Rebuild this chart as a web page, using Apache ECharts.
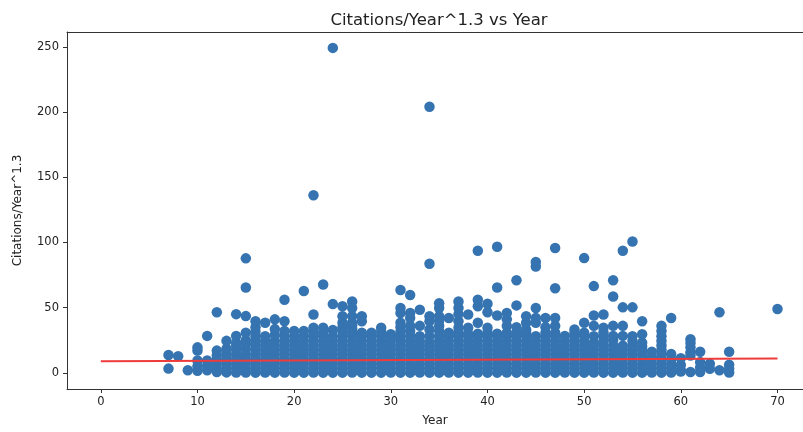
<!DOCTYPE html>
<html>
<head>
<meta charset="utf-8">
<script src="https://cdn.jsdelivr.net/npm/echarts@6/dist/echarts.min.js"></script>
<style>
html,body{margin:0;padding:0;background:#fff;}
#chart{width:803px;height:432px;}
</style>
</head>
<body>
<div id="chart"></div>
<script>
// ---- data ----
const titleText = "Citations/Year^1.3 vs Year";
const xName = "Year";
const yName = "Citations/Year^1.3";
const xTicks = [0, 10, 20, 30, 40, 50, 60, 70];
const yTicks = [0, 50, 100, 150, 200, 250];

const years = [7,8,9,10,11,12,13,14,15,16,17,18,19,20,21,22,23,24,25,26,27,28,29,30,31,32,33,34,35,36,37,38,39,40,41,42,43,44,45,46,47,48,49,50,51,52,53,54,55,56,57,58,59,60,61,62,63,64,65,70];

const valuesByYear = [
  [3.2, 13.7],
  [12.7],
  [1.9],
  [1.5, 5.0, 9.4, 17.0, 19.5],
  [2.0, 5.5, 9.4, 28.3],
  [0.5, 3, 6.5, 10, 13.5, 17, 46.4],
  [0.3, 3.5, 7, 10.5, 14, 18.5, 24.5],
  [0.2, 3.5, 7, 10.5, 14, 17.5, 20.5, 23, 28.3, 45],
  [0.2, 3.5, 7, 10.5, 14, 18, 22, 25, 30.8, 43.5, 65.5, 87.8],
  [0.1, 3.5, 7, 10.5, 14, 17.5, 21, 24.5, 28, 31.5, 35, 39.6],
  [0.2, 3.5, 7, 10.5, 14, 17.5, 21, 24.5, 28, 38.4],
  [0.1, 3.5, 7, 10.5, 14, 17.5, 21, 24.5, 29, 33.5, 41],
  [0.2, 3.5, 7, 10.5, 14, 17.5, 21, 24.5, 28, 32, 39.6, 56],
  [0.1, 3.5, 7, 10.5, 14, 17.5, 21, 24.5, 28, 32],
  [0.1, 3.5, 7, 10.5, 14, 17.5, 21, 24.5, 28, 32, 62.8],
  [0.2, 3.5, 7, 10.5, 14, 17.5, 21, 24.5, 28, 31, 34.6, 44.7, 136.2],
  [0.1, 3.5, 7, 10.5, 14, 17.5, 21, 24.5, 28, 31, 34.6, 67.8],
  [0.1, 3.5, 7, 10.5, 14, 17.5, 21, 24.5, 28, 32.8, 52.7, 249.3],
  [0.1, 3.5, 7, 10.5, 14, 17.5, 21, 24.5, 28, 31.5, 35, 38.4, 43.4, 51],
  [0.2, 3.5, 7, 10.5, 14, 17.5, 21, 24.5, 28, 31, 34, 36.5, 38.4, 43.4, 49.7, 54.7],
  [0.1, 3.5, 7, 10.5, 14, 17.5, 21, 24.5, 28, 30.8, 39.6, 43.4],
  [0.1, 3.5, 7, 10.5, 14, 17.5, 21, 24.5, 28, 30.8],
  [0.1, 3.5, 7, 10.5, 14, 17.5, 21, 24.5, 28, 31.5, 34.6],
  [0.2, 3.5, 7, 10.5, 14, 17.5, 21, 24.5, 27, 29.6],
  [0.1, 3.5, 7, 10.5, 14, 17.5, 21, 24.5, 28, 31.5, 35, 38.4, 45.9, 49.7, 63.5],
  [0.1, 3.5, 7, 10.5, 14, 17.5, 21, 24.5, 28, 32, 36, 42, 45.9, 59.7],
  [0.2, 3.5, 7, 10.5, 14, 17.5, 21, 24.5, 28, 36, 48.4],
  [0.1, 3.5, 7, 10.5, 14, 17.5, 20, 23, 28, 33.3, 39.6, 43.4, 83.6, 204.2],
  [0.1, 3.5, 7, 10.5, 14, 17.5, 21, 24.5, 28, 32, 36, 40, 43.4, 49.7, 53.4],
  [0.2, 3.5, 7, 10.5, 14, 17.5, 21, 24.5, 28, 30.8, 42],
  [0.1, 3.5, 7, 10.5, 14, 17.5, 21, 24.5, 28, 31, 34.6, 39.6, 45, 49.7, 54.7],
  [0.1, 3.5, 7, 10.5, 14, 17.5, 21, 24.5, 28, 30, 34.6, 44.7],
  [0.2, 3.5, 7, 10.5, 14, 17.5, 21, 24.5, 28, 30, 38.4, 51, 56, 93.7],
  [0.1, 3.5, 7, 10.5, 14, 17.5, 21, 24.5, 28, 30.8, 34.6, 46.5, 53],
  [0.1, 3.5, 7, 10.5, 14, 17.5, 21, 24.5, 28, 30, 44, 65.5, 96.7],
  [0.2, 3.5, 7, 10.5, 14, 17.5, 21, 24.5, 28, 30.8, 36, 41, 45.9],
  [0.1, 3.5, 7, 10.5, 14, 17.5, 21, 24.5, 28, 30.8, 35, 51.7, 71],
  [0.1, 3.5, 7, 10.5, 14, 17.5, 21, 24.5, 28, 30.8, 33, 38.4, 43.4],
  [0.2, 3.5, 7, 10.5, 14, 17.5, 21, 24.5, 28, 38.4, 42, 49.7, 81.6, 85],
  [0.1, 3.5, 7, 10.5, 14, 17.5, 21, 24.5, 28, 30.8, 35, 42],
  [0.1, 3.5, 7, 10.5, 14, 17.5, 21, 24.5, 28, 30.8, 36, 42, 64.8, 95.7],
  [0.2, 3.5, 7, 10.5, 14, 17.5, 21, 24.5, 28.3],
  [0.1, 3.5, 7, 10.5, 14, 17.5, 21, 24.5, 28, 30.5, 33.3],
  [0.1, 3.5, 7, 10.5, 14, 17.5, 21, 24.5, 28, 30.8, 38.4, 88],
  [0.2, 3.5, 7, 10.5, 14, 17.5, 21, 23, 28, 36, 44, 66.5],
  [0.1, 3.5, 7, 10.5, 14, 17.5, 21, 24.5, 28, 31, 34.6, 44.7],
  [0.1, 3.5, 7, 10.5, 14, 17.5, 21, 25, 28.3, 36, 58.5, 71],
  [0.2, 3.5, 7, 10.5, 14, 17.5, 20.8, 28.3, 36, 50.2, 93.7],
  [0.1, 3.5, 7, 10.5, 14, 17.5, 21, 24.5, 28, 50.2, 100.8],
  [0.1, 3.5, 7, 10.5, 14, 17.5, 20, 23, 29.6, 39.6],
  [0.2, 3.5, 7, 10.5, 12, 16.2],
  [0.1, 3.5, 7, 10.5, 14, 17.5, 21, 24.5, 28, 32, 36],
  [0.2, 3.5, 7, 10.5, 14.5, 42],
  [1, 1.9, 6, 11.2],
  [0.6, 13.2, 15.7, 19.5, 22.8, 25.8],
  [0.6, 4, 8.2, 16.2],
  [3.1, 6.9],
  [1.9, 46.4],
  [0.2, 3, 6.2, 16.2],
  [48.9]
];

const trendX = [0, 70];
const trendY = [8.8, 11.0];

// ---- build series data ----
const scatterData = [];
years.forEach((yr, i) => {
  valuesByYear[i].forEach(v => scatterData.push([yr, v]));
});
const trendData = trendX.map((x, i) => [x, trendY[i]]);

const FONT = "DejaVu Sans";
const AXC = '#333';
const chart = echarts.init(document.getElementById('chart'), null, {renderer: 'canvas'});
chart.setOption({
  animation: false,
  backgroundColor: '#ffffff',
  title: {
    text: titleText,
    left: 434,
    textAlign: 'center',
    top: 7,
    textStyle: {fontFamily: FONT, fontSize: 16.5, fontWeight: 'normal', color: '#222'}
  },
  grid: {
    left: 67, top: 32, right: 0, height: 362,
    show: false
  },
  xAxis: [{
    type: 'value',
    min: -3.5, max: 72.64,
    name: xName,
    nameLocation: 'middle',
    nameGap: 26,
    nameTextStyle: {fontFamily: FONT, fontSize: 12, color: '#222'},
    axisLine: {show: true, onZero: false, lineStyle: {color: AXC, width: 1}},
    axisTick: {show: true, length: 4, inside: false, customValues: xTicks, lineStyle: {color: AXC}},
    axisLabel: {show: true, customValues: xTicks, margin: 7, fontFamily: FONT, fontSize: 11.5, color: '#222'},
    splitLine: {show: false}
  }, {
    type: 'value',
    position: 'top',
    min: -3.5, max: 72.64,
    axisLine: {show: true, onZero: false, lineStyle: {color: AXC, width: 1}},
    axisTick: {show: false},
    axisLabel: {show: false},
    splitLine: {show: false}
  }],
  yAxis: {
    type: 'value',
    min: -12.45, max: 261.5,
    name: yName,
    nameLocation: 'middle',
    nameGap: 43,
    nameRotate: 90,
    nameTextStyle: {fontFamily: FONT, fontSize: 12, color: '#222'},
    axisLine: {show: true, onZero: false, lineStyle: {color: AXC, width: 1}},
    axisTick: {show: true, length: 4, inside: false, customValues: yTicks, lineStyle: {color: AXC}},
    axisLabel: {show: true, customValues: yTicks, margin: 8, fontFamily: FONT, fontSize: 11.5, color: '#222'},
    splitLine: {show: false}
  },
  series: [
    {
      type: 'scatter',
      xAxisIndex: 0,
      data: scatterData,
      symbol: 'circle',
      symbolSize: 10.5,
      itemStyle: {color: '#3574b0', opacity: 1},
      z: 2,
      silent: true
    },
    {
      type: 'line',
      xAxisIndex: 0,
      data: trendData,
      showSymbol: false,
      symbol: 'none',
      lineStyle: {color: '#ee3b3b', width: 2},
      z: 3,
      silent: true
    }
  ]
});
</script>
</body>
</html>
